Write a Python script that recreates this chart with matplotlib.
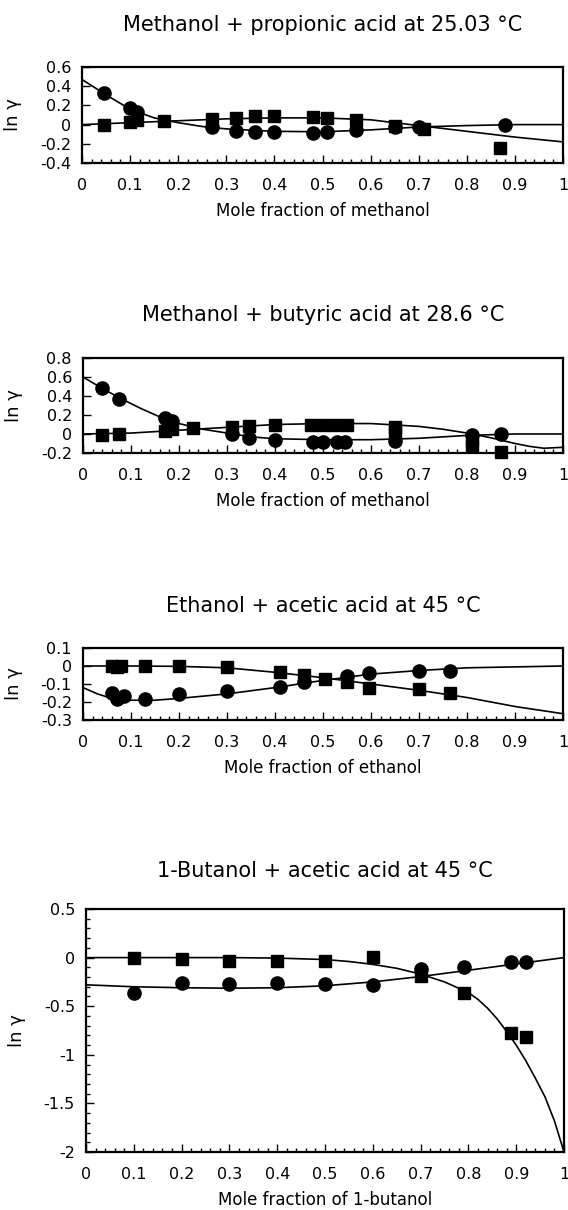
import matplotlib
matplotlib.use("Agg")
import matplotlib.pyplot as plt
from matplotlib.ticker import MultipleLocator, FormatStrFormatter

plt.rcParams['font.family'] = ['DejaVu Sans']
plt.rcParams['axes.unicode_minus'] = False

titles = ["Methanol + propionic acid at 25.03 °C",
          "Methanol + butyric acid at 28.6 °C",
          "Ethanol + acetic acid at 45 °C",
          "1-Butanol + acetic acid at 45 °C"]
xLabels = ["Mole fraction of methanol",
           "Mole fraction of methanol",
           "Mole fraction of ethanol",
           "Mole fraction of 1-butanol"]
yLimits = [(-0.4, 0.6), (-0.2, 0.8), (-0.3, 0.1), (-2, 0.5)]
yMajorStep = [0.2, 0.2, 0.1, 0.5]
yMinorStep = [None, None, None, 0.1]

# methanol + propionic acid
mpCircleX = [0.045, 0.10, 0.115, 0.27, 0.32, 0.36, 0.40, 0.48, 0.51, 0.57, 0.65, 0.70, 0.88]
mpCircleY = [0.33, 0.17, 0.13, -0.03, -0.07, -0.08, -0.08, -0.09, -0.08, -0.06, -0.03, -0.02, 0.0]
mpSquareX = [0.045, 0.10, 0.115, 0.17, 0.27, 0.32, 0.36, 0.40, 0.48, 0.51, 0.57, 0.65, 0.71, 0.87]
mpSquareY = [0.0, 0.03, 0.05, 0.04, 0.06, 0.07, 0.09, 0.09, 0.08, 0.07, 0.05, -0.01, -0.05, -0.24]
mpCircleLineX = [0, 0.05, 0.1, 0.15, 0.2, 0.25, 0.3, 0.4, 0.5, 0.6, 0.7, 0.8, 0.9, 1.0]
mpCircleLineY = [0.47, 0.31, 0.16, 0.07, 0.02, -0.02, -0.045, -0.07, -0.075, -0.055, -0.025, -0.01, 0.0, 0.0]
mpSquareLineX = [0, 0.1, 0.2, 0.3, 0.4, 0.5, 0.6, 0.7, 0.8, 0.9, 1.0]
mpSquareLineY = [0.0, 0.02, 0.04, 0.06, 0.07, 0.07, 0.05, -0.01, -0.07, -0.13, -0.18]

# methanol + butyric acid
mbCircleX = [0.04, 0.075, 0.17, 0.185, 0.31, 0.345, 0.40, 0.48, 0.50, 0.53, 0.545, 0.65, 0.81, 0.87]
mbCircleY = [0.48, 0.37, 0.17, 0.14, 0.0, -0.04, -0.06, -0.08, -0.08, -0.08, -0.08, -0.07, -0.01, 0.0]
mbSquareX = [0.04, 0.075, 0.17, 0.185, 0.23, 0.31, 0.345, 0.40, 0.475, 0.50, 0.525, 0.55, 0.65, 0.65, 0.81, 0.81, 0.87]
mbSquareY = [-0.01, 0.0, 0.03, 0.05, 0.06, 0.07, 0.08, 0.09, 0.1, 0.1, 0.1, 0.1, 0.07, 0.02, -0.06, -0.13, -0.19]
mbCircleLineX = [0, 0.04, 0.08, 0.12, 0.16, 0.2, 0.25, 0.3, 0.35, 0.4, 0.5, 0.6, 0.7, 0.8, 0.9, 1.0]
mbCircleLineY = [0.6, 0.48, 0.37, 0.27, 0.18, 0.11, 0.05, 0.01, -0.03, -0.05, -0.06, -0.06, -0.045, -0.015, 0.0, 0.0]
mbSquareLineX = [0, 0.1, 0.2, 0.3, 0.4, 0.5, 0.6, 0.7, 0.75, 0.8, 0.85, 0.9, 0.93, 0.96, 1.0]
mbSquareLineY = [0.0, 0.01, 0.04, 0.07, 0.1, 0.11, 0.11, 0.08, 0.05, 0.01, -0.04, -0.1, -0.13, -0.15, -0.14]

# ethanol + acetic acid
eaCircleX = [0.06, 0.07, 0.085, 0.13, 0.20, 0.30, 0.41, 0.46, 0.55, 0.595, 0.70, 0.765]
eaCircleY = [-0.15, -0.185, -0.165, -0.185, -0.155, -0.14, -0.115, -0.09, -0.055, -0.04, -0.025, -0.025]
eaSquareX = [0.06, 0.07, 0.08, 0.13, 0.20, 0.30, 0.41, 0.46, 0.505, 0.55, 0.595, 0.70, 0.765]
eaSquareY = [0.0, -0.005, 0.0, 0.0, 0.0, -0.005, -0.035, -0.05, -0.07, -0.09, -0.12, -0.13, -0.15]
eaCircleLineX = [0, 0.03, 0.06, 0.1, 0.15, 0.2, 0.3, 0.4, 0.5, 0.6, 0.7, 0.8, 0.9, 1.0]
eaCircleLineY = [-0.12, -0.155, -0.18, -0.19, -0.19, -0.18, -0.155, -0.12, -0.08, -0.045, -0.025, -0.01, -0.005, 0.0]
eaSquareLineX = [0, 0.1, 0.2, 0.3, 0.4, 0.5, 0.6, 0.7, 0.8, 0.9, 1.0]
eaSquareLineY = [0.0, 0.0, -0.002, -0.01, -0.035, -0.065, -0.1, -0.135, -0.175, -0.225, -0.265]

# 1-butanol + acetic acid
baCircleX = [0.1, 0.2, 0.3, 0.4, 0.5, 0.6, 0.7, 0.79, 0.89, 0.92]
baCircleY = [-0.36, -0.26, -0.27, -0.26, -0.27, -0.28, -0.12, -0.1, -0.045, -0.05]
baSquareX = [0.1, 0.2, 0.3, 0.4, 0.5, 0.6, 0.7, 0.79, 0.89, 0.92]
baSquareY = [0.0, -0.01, -0.04, -0.03, -0.03, 0.01, -0.19, -0.36, -0.78, -0.82]
baCircleLineX = [0, 0.1, 0.2, 0.3, 0.4, 0.5, 0.6, 0.7, 0.8, 0.9, 1.0]
baCircleLineY = [-0.28, -0.3, -0.31, -0.315, -0.31, -0.29, -0.25, -0.195, -0.13, -0.065, 0.0]
baSquareLineX = [0, 0.1, 0.2, 0.3, 0.4, 0.5, 0.55, 0.6, 0.65, 0.7, 0.75, 0.8, 0.82, 0.84, 0.86,
                 0.88, 0.9, 0.92, 0.94, 0.96, 0.98, 1.0]
baSquareLineY = [0.0, 0.0, 0.0, 0.0, -0.005, -0.02, -0.04, -0.07, -0.11, -0.17, -0.25, -0.36, -0.43, -0.52, -0.63,
                 -0.76, -0.9, -1.06, -1.24, -1.43, -1.68, -2.0]

panelData = [
    (mpCircleX, mpCircleY, mpSquareX, mpSquareY, mpCircleLineX, mpCircleLineY, mpSquareLineX, mpSquareLineY),
    (mbCircleX, mbCircleY, mbSquareX, mbSquareY, mbCircleLineX, mbCircleLineY, mbSquareLineX, mbSquareLineY),
    (eaCircleX, eaCircleY, eaSquareX, eaSquareY, eaCircleLineX, eaCircleLineY, eaSquareLineX, eaSquareLineY),
    (baCircleX, baCircleY, baSquareX, baSquareY, baCircleLineX, baCircleLineY, baSquareLineX, baSquareLineY),
]

# axes boxes in pixels: left, top, right, bottom (figure is 568 x 1210)
boxes = [(82, 67, 563, 163), (83, 358, 563, 453), (83, 648, 563, 720), (86, 909, 564, 1152)]
titlePads = [26, 27, 26, 23]
figW, figH = 568, 1210

fig = plt.figure(figsize=(figW / 100, figH / 100), dpi=100)

for i in range(4):
    left, top, right, bottom = boxes[i]
    ax = fig.add_axes([left / figW, 1 - bottom / figH, (right - left) / figW, (bottom - top) / figH])
    cx, cy, sx, sy, clx, cly, slx, sly = panelData[i]

    ax.plot(clx, cly, color='black', lw=1.2, zorder=2)
    ax.plot(slx, sly, color='black', lw=1.2, zorder=2)
    ax.plot(cx, cy, 'o', color='black', ms=9.5, zorder=3, clip_on=False)
    ax.plot(sx, sy, 's', color='black', ms=8, zorder=3, clip_on=False)

    ax.set_xlim(0, 1)
    ax.set_ylim(*yLimits[i])
    ax.xaxis.set_major_locator(MultipleLocator(0.1))
    ax.xaxis.set_minor_locator(MultipleLocator(0.02))
    ax.yaxis.set_major_locator(MultipleLocator(yMajorStep[i]))
    if yMinorStep[i]:
        ax.yaxis.set_minor_locator(MultipleLocator(yMinorStep[i]))
    ax.xaxis.set_major_formatter(FormatStrFormatter('%g'))
    ax.yaxis.set_major_formatter(FormatStrFormatter('%g'))

    ax.tick_params(which='both', direction='in', top=False, right=False, width=1.0)
    ax.tick_params(which='major', length=6, labelsize=11.5)
    ax.tick_params(which='minor', length=3)
    ax.tick_params(axis='x', which='major', pad=11)
    ax.tick_params(axis='y', which='major', pad=8)
    for spine in ax.spines.values():
        spine.set_linewidth(1.6)

    ax.set_title(titles[i], fontsize=15, pad=titlePads[i])
    ax.set_xlabel(xLabels[i], fontsize=12, labelpad=6)
    ax.set_ylabel("ln γ", fontsize=13)
    ax.yaxis.set_label_coords(-0.125, 0.5)

fig.savefig("out.png", dpi=100)
